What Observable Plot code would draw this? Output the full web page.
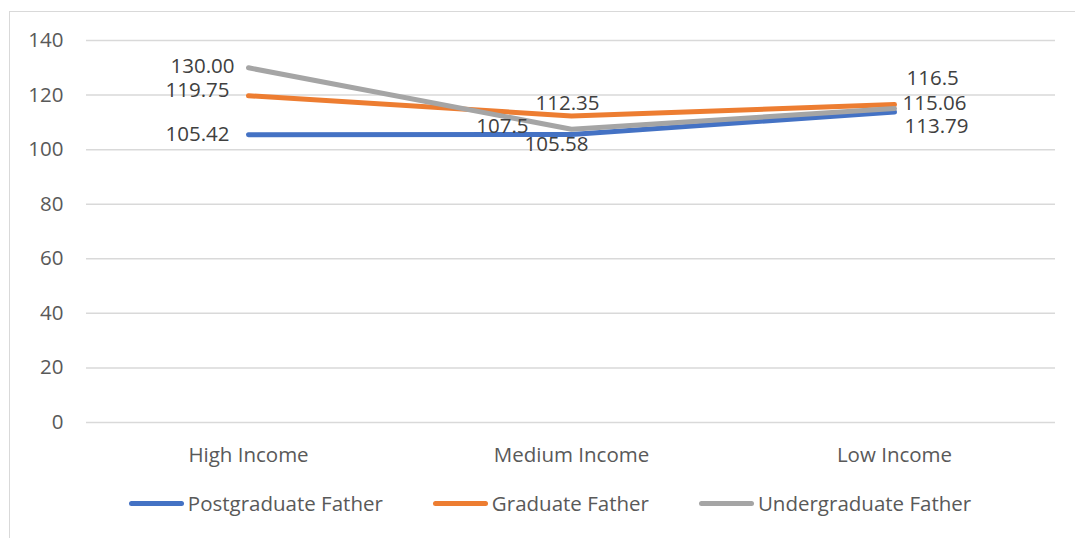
<!DOCTYPE html>
<html>
<head>
<meta charset="utf-8">
<script src="https://cdn.jsdelivr.net/npm/d3@7"></script>
<script src="https://cdn.jsdelivr.net/npm/@observablehq/plot@0.6"></script>
<style>
  html, body { margin: 0; padding: 0; background: #fff; }
  body { width: 1075px; height: 538px; overflow: hidden; position: relative; font-family: "Open Sans", Lato, sans-serif; }
  #frame { position: absolute; left: 9px; top: 11px; width: 1100px; height: 600px; border-left: 1.5px solid #D9D9D9; border-top: 1.5px solid #D9D9D9; }
  #chart { position: absolute; left: 0; top: 0; }
  #legend { position: absolute; left: 0; top: 489px; width: 1100px; display: flex; justify-content: center; padding-left: 0; box-sizing: border-box; gap: 50px; font-size: 20.5px; color: #595959; }
  .item { display: flex; align-items: center; }
  .sw { width: 55px; height: 5px; border-radius: 3px; margin-right: 4px; }
</style>
</head>
<body>
<div id="frame"></div>
<div id="chart"></div>
<div id="legend"></div>
<script>
const categories = ["High Income", "Medium Income", "Low Income"];
const series = ["Postgraduate Father", "Graduate Father", "Undergraduate Father"];
const postgraduate = [105.42, 105.58, 113.79];
const graduate = [119.75, 112.35, 116.5];
const undergraduate = [130.00, 107.5, 115.06];
const labelText = [
  ["105.42", "105.58", "113.79"],
  ["119.75", "112.35", "116.5"],
  ["130.00", "107.5", "115.06"]
];
const yTicks = [0, 20, 40, 60, 80, 100, 120, 140];
const colors = ["#4472C4", "#ED7D31", "#A5A5A5"];

// label placement offsets (style), per series per category: [dx, dy, anchor]
const labelPlace = [
  [[-19, 0, "end"], [-15, 10, "middle"], [10, 14, "start"]],
  [[-19, -5, "end"], [-4, -13, "middle"], [12, -26, "start"]],
  [[-14, -1, "end"], [-43, -3, "end"], [8, -5, "start"]]
];

const allValues = [postgraduate, graduate, undergraduate];
const rows = [];
series.forEach((s, i) => {
  categories.forEach((c, j) => {
    rows.push({series: s, cat: c, value: allValues[i][j], label: labelText[i][j],
      dx: labelPlace[i][j][0], dy: labelPlace[i][j][1], anchor: labelPlace[i][j][2]});
  });
});

const textMarks = [];
rows.forEach(r => {
  textMarks.push(Plot.text([r], {x: "cat", y: "value", text: "label", dx: r.dx, dy: r.dy,
    textAnchor: r.anchor, fill: "#404040", fontSize: 20.5, lineAnchor: "middle"}));
});

const chart = Plot.plot({
  width: 1075,
  height: 475,
  marginLeft: 86,
  marginRight: 20,
  marginTop: 40,
  marginBottom: 53,
  style: {fontFamily: "'Open Sans', Lato, sans-serif", fontSize: "20.5px", color: "#595959", background: "transparent"},
  x: {type: "point", domain: categories, padding: 0.5, label: null},
  y: {domain: [0, 140], ticks: yTicks, label: null},
  color: {domain: series, range: colors},
  marks: [
    Plot.ruleY(yTicks, {stroke: "#D9D9D9", strokeWidth: 1.5}),
    Plot.axisY({ticks: yTicks, tickSize: 0, tickPadding: 23, label: null, fill: "#595959", fontSize: 20.5}),
    Plot.axisX({tickSize: 0, tickPadding: 25, label: null, fill: "#595959", fontSize: 20.5}),
    Plot.line(rows, {x: "cat", y: "value", z: "series", stroke: "series", strokeWidth: 5,
      strokeLinecap: "round", strokeLinejoin: "round"}),
    ...textMarks
  ]
});
document.getElementById("chart").appendChild(chart);

const legend = document.getElementById("legend");
series.forEach((s, i) => {
  const item = document.createElement("div");
  item.className = "item";
  const sw = document.createElement("div");
  sw.className = "sw";
  sw.style.background = colors[i];
  const t = document.createElement("span");
  t.textContent = s;
  item.appendChild(sw);
  item.appendChild(t);
  legend.appendChild(item);
});
</script>
</body>
</html>
